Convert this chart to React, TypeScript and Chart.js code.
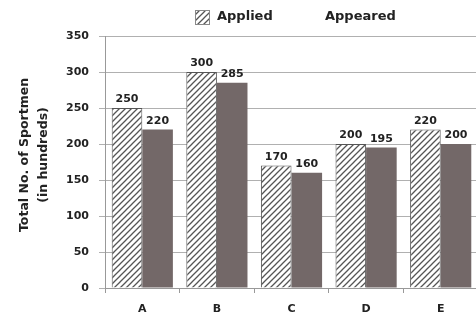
import React, { useEffect, useRef } from "react";
import { Chart, registerables } from "chart.js";

Chart.register(...registerables);

const categories = ["A", "B", "C", "D", "E"];
const applied = [250, 300, 170, 200, 220];
const appeared = [220, 285, 160, 195, 200];
const yTicks = [0, 50, 100, 150, 200, 250, 300, 350];
const yTitleLines = ["Total No. of Sportmen", "(in hundreds)"];

const FONT = "'DejaVu Sans', sans-serif";
const DARK = "#736868";

function makeHatch(): CanvasPattern | string {
  const c = document.createElement("canvas");
  const s = 6;
  c.width = s;
  c.height = s;
  const g = c.getContext("2d");
  if (!g) return "#fff";
  g.fillStyle = "#ffffff";
  g.fillRect(0, 0, s, s);
  g.strokeStyle = "#555555";
  g.lineWidth = 1.3;
  g.beginPath();
  g.moveTo(-1, s + 1);
  g.lineTo(s + 1, -1);
  g.moveTo(-1, 1);
  g.lineTo(1, -1);
  g.moveTo(s - 1, s + 1);
  g.lineTo(s + 1, s - 1);
  g.stroke();
  const p = g.createPattern(c, "repeat");
  return p || "#fff";
}

export default function App() {
  const ref = useRef<HTMLCanvasElement>(null);
  useEffect(() => {
    document.body.style.overflow = "hidden";
    const hatch = makeHatch();
    const labelPlugin = {
      id: "valueLabels",
      afterDatasetsDraw(chart: any) {
        const ctx = chart.ctx;
        ctx.save();
        ctx.font = `bold 11px ${FONT}`;
        ctx.fillStyle = "#222";
        ctx.textAlign = "center";
        ctx.textBaseline = "bottom";
        chart.data.datasets.forEach((ds: any, di: number) => {
          const meta = chart.getDatasetMeta(di);
          meta.data.forEach((el: any, i: number) => {
            ctx.fillText(String(ds.data[i]), el.x, el.y - 3);
          });
        });
        ctx.restore();
      },
    };
    const legendPlugin = {
      id: "customLegend",
      afterDraw(chart: any) {
        const ctx = chart.ctx;
        ctx.save();
        ctx.fillStyle = hatch as any;
        ctx.fillRect(195, 10, 14, 14);
        ctx.strokeStyle = "#888";
        ctx.lineWidth = 1;
        ctx.strokeRect(195.5, 10.5, 14, 14);
        ctx.font = `bold 13px ${FONT}`;
        ctx.fillStyle = "#222";
        ctx.textAlign = "left";
        ctx.textBaseline = "middle";
        ctx.fillText("Applied", 217, 17);
        ctx.fillText("Appeared", 325, 17);
        // y-axis title
        ctx.translate(0, 155);
        ctx.rotate(-Math.PI / 2);
        ctx.textAlign = "center";
        ctx.font = `bold 12.5px ${FONT}`;
        ctx.fillText(yTitleLines[0], 0, 25);
        ctx.fillText(yTitleLines[1], 0, 44);
        ctx.restore();
      },
    };
    const chart = new Chart(ref.current!, {
      type: "bar",
      data: {
        labels: categories,
        datasets: [
          {
            label: "Applied",
            data: applied,
            backgroundColor: hatch as any,
            borderColor: "#555",
            borderWidth: 1,
            categoryPercentage: 0.82,
            barPercentage: 1,
          },
          {
            label: "Appeared",
            data: appeared,
            backgroundColor: DARK,
            borderWidth: 0,
            categoryPercentage: 0.82,
            barPercentage: 1,
          },
        ],
      },
      options: {
        animation: false,
        responsive: false,
        maintainAspectRatio: false,
        layout: { padding: { top: 36, right: 2, left: 16, bottom: 0 } },
        plugins: {
          legend: { display: false },
          tooltip: { enabled: false },
        },
        scales: {
          x: {
            afterFit(axis: any) {
              axis.height = 30;
            },
            grid: {
              offset: true,
              drawOnChartArea: false,
              drawTicks: true,
              tickLength: 5,
              color: "#999",
            },
            border: { color: "#999" },
            ticks: {
              font: { family: FONT, size: 11, weight: "bold" },
              color: "#222",
              padding: 10,
            },
          },
          y: {
            min: 0,
            max: 350,
            afterBuildTicks(axis: any) {
              axis.ticks = yTicks.map((v) => ({ value: v }));
            },
            afterFit(axis: any) {
              axis.width = 89;
            },
            grid: {
              color: "#b0b0b0",
              tickLength: 6,
            },
            border: { color: "#999" },
            ticks: {
              font: { family: FONT, size: 11, weight: "bold" },
              color: "#222",
              padding: 10,
            },
            title: { display: false },
          },
        },
      },
      plugins: [labelPlugin, legendPlugin],
    });
    return () => chart.destroy();
  }, []);
  return (
    <div style={{ position: "fixed", left: 0, top: 0, width: 480, height: 318, background: "#fff" }}>
      <canvas ref={ref} width={480} height={318} style={{ width: 480, height: 318 }} />
    </div>
  );
}
